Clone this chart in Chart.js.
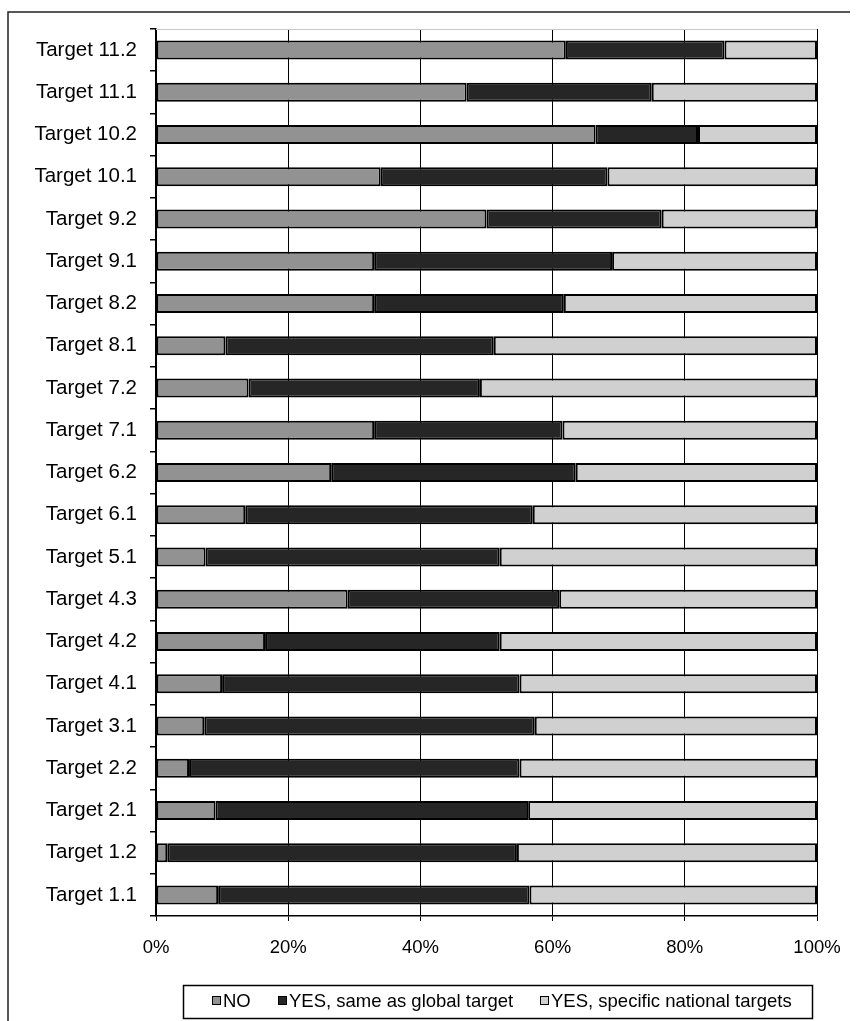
<!DOCTYPE html>
<html>
<head>
<meta charset="utf-8">
<script src="https://cdn.jsdelivr.net/npm/chart.js@4/dist/chart.umd.min.js"></script>
<style>
  html, body { margin: 0; padding: 0; background: #fff; }
  #wrap { width: 866px; height: 1021px; position: relative; }
</style>
</head>
<body>
<div id="wrap"><canvas id="chart"></canvas></div>
<script>
// categories, top to bottom
const targets = [
  'Target 11.2', 'Target 11.1', 'Target 10.2', 'Target 10.1', 'Target 9.2',
  'Target 9.1', 'Target 8.2', 'Target 8.1', 'Target 7.2', 'Target 7.1',
  'Target 6.2', 'Target 6.1', 'Target 5.1', 'Target 4.3', 'Target 4.2',
  'Target 4.1', 'Target 3.1', 'Target 2.2', 'Target 2.1', 'Target 1.2',
  'Target 1.1'
];

// shares in %
const noValues = [62, 47, 66.5, 34, 50, 33, 33, 10.5, 14, 33, 26.5, 13.5, 7.5, 29, 16.5, 10, 7.3, 5, 9, 1.7, 9.4];
const sameValues = [24, 28, 15.5, 34.3, 26.5, 36, 28.7, 40.6, 35, 28.5, 37, 43.5, 44.5, 32, 35.5, 45, 50, 50, 47.3, 52.9, 47.1];
const specificValues = [14, 25, 18, 31.7, 23.5, 31, 38.3, 48.9, 51, 38.5, 36.5, 43, 48, 39, 48, 45, 42.7, 45, 43.7, 45.4, 43.5];

const seriesNames = ['NO', 'YES, same as global target', 'YES, specific national targets'];
const xTicks = [0, 20, 40, 60, 80, 100];

const fontFamily = '"Liberation Sans", Arial, sans-serif';

// frame, top line of plot and the boxed legend
const extras = {
  id: 'extras',
  beforeDatasetsDraw(chart) {
    const ctx = chart.ctx;
    const a = chart.chartArea;
    ctx.save();
    ctx.strokeStyle = '#c8c8c8';
    ctx.lineWidth = 1;
    ctx.beginPath();
    ctx.moveTo(a.left, a.top + 0.5);
    ctx.lineTo(a.right, a.top + 0.5);
    ctx.stroke();
    ctx.restore();
  },
  afterDraw(chart) {
    const ctx = chart.ctx;
    ctx.save();
    // outer frame (top + left)
    ctx.strokeStyle = '#222';
    ctx.lineWidth = 1.5;
    ctx.beginPath();
    ctx.moveTo(8, 1021);
    ctx.lineTo(8, 12);
    ctx.lineTo(850, 12);
    ctx.stroke();

    // legend box
    ctx.lineWidth = 1.5;
    ctx.strokeStyle = '#000';
    ctx.strokeRect(183.5, 985.5, 629, 33);
    ctx.font = '18.5px ' + fontFamily;
    ctx.textBaseline = 'middle';
    const itemX = [212, 278, 540];
    chart.data.datasets.forEach((ds, i) => {
      ctx.fillStyle = ds.backgroundColor;
      ctx.fillRect(itemX[i], 996, 9, 9);
      ctx.strokeStyle = '#000';
      ctx.lineWidth = 1;
      ctx.strokeRect(itemX[i] + 0.5, 996.5, 8, 8);
      ctx.fillStyle = '#000';
      ctx.fillText(ds.label, itemX[i] + 11, 1002);
    });
    ctx.restore();
  }
};

new Chart(document.getElementById('chart'), {
  type: 'bar',
  data: {
    labels: targets,
    datasets: [
      { label: seriesNames[0], data: noValues, backgroundColor: '#929292' },
      { label: seriesNames[1], data: sameValues, backgroundColor: '#262626' },
      { label: seriesNames[2], data: specificValues, backgroundColor: '#d0d0d0' }
    ]
  },
  options: {
    indexAxis: 'y',
    responsive: true,
    maintainAspectRatio: false,
    animation: false,
    layout: { padding: { top: 29, right: 49, bottom: 0, left: 0 } },
    datasets: {
      bar: {
        categoryPercentage: 1,
        barPercentage: 0.45,
        borderColor: '#000',
        borderWidth: 2,
        borderSkipped: false
      }
    },
    plugins: {
      legend: { display: false },
      tooltip: { enabled: false }
    },
    scales: {
      x: {
        stacked: true,
        min: 0,
        max: 100,
        afterBuildTicks(scale) {
          scale.ticks = xTicks.map(v => ({ value: v }));
        },
        afterFit(scale) { scale.height = 105; },
        grid: { color: '#000', lineWidth: 1, tickLength: 5 },
        border: { color: '#000', width: 1.5 },
        ticks: {
          padding: 16,
          color: '#000',
          font: { family: fontFamily, size: 18.5 },
          callback: v => v + '%'
        }
      },
      y: {
        stacked: true,
        afterFit(scale) { scale.width = 156; },
        grid: { drawOnChartArea: false, color: '#000', tickLength: 6, lineWidth: 1.5 },
        border: { color: '#000', width: 1.5 },
        ticks: {
          padding: 13,
          color: '#000',
          font: { family: fontFamily, size: 20.5 }
        }
      }
    }
  },
  plugins: [extras]
});
</script>
</body>
</html>
